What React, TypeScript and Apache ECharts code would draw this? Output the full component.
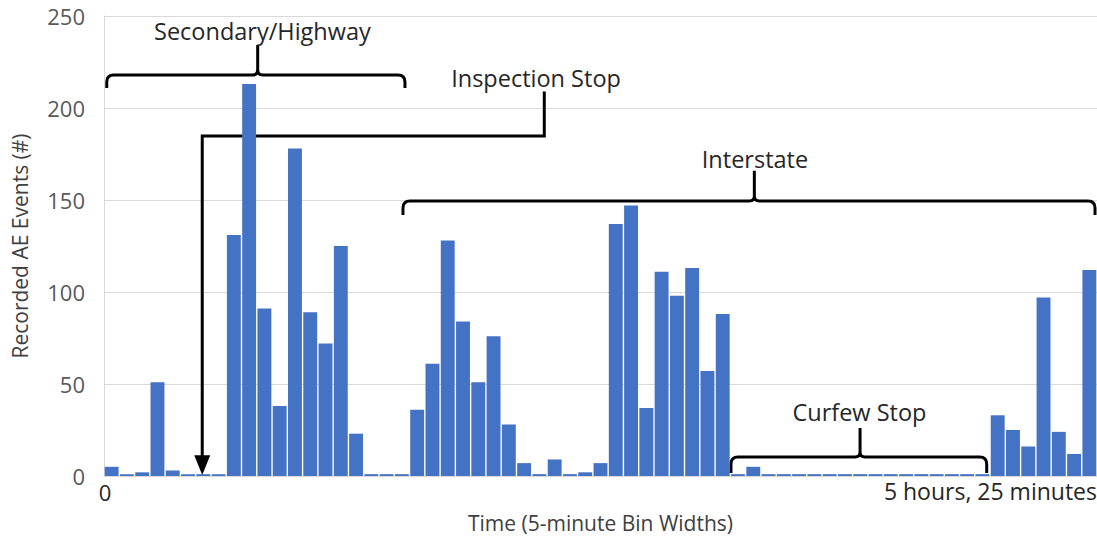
import React, { useEffect, useRef } from "react";
import * as echarts from "echarts";

// 5-minute bins (65 bins = 5 hours, 25 minutes)
const binStartMinutes: number[] = [];
for (let m = 0; m < 325; m += 5) binStartMinutes.push(m);
const categories = binStartMinutes.map((m) => String(m));

const aeEvents = [
  5, 1, 2, 51, 3, 1, 1, 1, 131, 213,
  91, 38, 178, 89, 72, 125, 23, 1, 1, 1,
  36, 61, 128, 84, 51, 76, 28, 7, 1, 9,
  1, 2, 7, 137, 147, 37, 111, 98, 113, 57,
  88, 1, 5, 1, 1, 1, 1, 1, 1, 1,
  1, 1, 1, 1, 1, 1, 1, 1, 33, 25,
  16, 97, 24, 12, 112,
];

const yTicks = [0, 50, 100, 150, 200, 250];
const xEndLabels = ["0", "5 hours, 25 minutes"];

// Annotation brackets, in data units: bin edges (x) and event counts (y)
const bracketNames = ["Secondary/Highway", "Interstate", "Curfew Stop"];
const bracketStart = [0.18, 19.57, 41.04];
const bracketEnd = [19.7, 64.87, 57.78];
const bracketPeakX = [10.06, 42.57, 49.49];
const bracketLineY = [217.9, 149.5, 10.3];
const bracketFootY = [210.9, 141.8, 1.6];
const bracketPeakY = [234.2, 165.9, 26.1];
const bracketLabelX = [10.37, 42.61, 49.45];
const bracketLabelY = [241.8, 172.3, 34.8];

// Inspection stop arrow
const inspectionLabel = "Inspection Stop";
const inspectionLabelPos = [28.28, 216.3];
const inspectionPath = [
  [28.82, 208.9],
  [28.82, 184.8],
  [6.43, 184.8],
  [6.43, 8.0],
];
const inspectionArrowTip = [6.43, 0.5];

export default function App() {
  const ref = useRef<HTMLDivElement>(null);

  useEffect(() => {
    if (!ref.current) return;
    const chart = echarts.init(ref.current, null, { renderer: "svg" });
    const font = "'Open Sans', 'Noto Sans', sans-serif";

    const option: any = {
      animation: false,
      grid: { left: 104, right: 0, top: 16, bottom: 66, containLabel: false, outerBoundsMode: "none" },
      xAxis: {
        type: "category",
        data: categories,
        boundaryGap: true,
        axisTick: { show: false },
        axisLabel: { show: false },
        axisLine: { show: true, lineStyle: { color: "#d9d9d9", width: 1 } },
        name: "Time (5-minute Bin Widths)",
        nameLocation: "middle",
        nameGap: 36,
        nameTextStyle: { fontFamily: font, fontSize: 21, color: "#404040" },
      },
      yAxis: {
        type: "value",
        min: 0,
        max: 250,
        interval: 50,
        axisLine: { show: true, lineStyle: { color: "#d9d9d9", width: 1 } },
        axisTick: { show: false },
        splitLine: { show: true, lineStyle: { color: "#d9d9d9", width: 1 } },
        axisLabel: {
          fontFamily: font,
          fontSize: 22,
          color: "#595959",
          margin: 19,
          formatter: (v: number) => (yTicks.includes(v) ? String(v) : ""),
        },
        name: "Recorded AE Events (#)",
        nameLocation: "middle",
        nameRotate: 90,
        nameGap: 74,
        nameTextStyle: { fontFamily: font, fontSize: 21, color: "#404040" },
      },
      series: [
        {
          type: "bar",
          data: aeEvents,
          barCategoryGap: "9%",
          itemStyle: {
            color: "#4472C4",
          },
        },
      ],
    };
    chart.setOption(option);

    const c0 = chart.convertToPixel({ xAxisIndex: 0 }, 0) as number;
    const c1 = chart.convertToPixel({ xAxisIndex: 0 }, 1) as number;
    const pitch = c1 - c0;
    const px = (e: number) => c0 - pitch / 2 + e * pitch;
    const py = (v: number) => chart.convertToPixel({ yAxisIndex: 0 }, v) as number;

    let d = "";
    const r = 7;
    const rc = 5;
    for (let i = 0; i < bracketNames.length; i++) {
      const x1 = px(bracketStart[i]);
      const x2 = px(bracketEnd[i]);
      const xc = px(bracketPeakX[i]);
      const yh = py(bracketLineY[i]);
      const yf = py(bracketFootY[i]);
      const yp = py(bracketPeakY[i]);
      d += `M${x1},${yf} L${x1},${yh + r} Q${x1},${yh} ${x1 + r},${yh} L${xc - rc},${yh} Q${xc},${yh} ${xc},${yh - rc} L${xc},${yp} `;
      d += `M${xc},${yh - rc} Q${xc},${yh} ${xc + rc},${yh} L${x2 - r},${yh} Q${x2},${yh} ${x2},${yh + r} L${x2},${yf} `;
    }
    d += "M" + inspectionPath.map((p) => `${px(p[0])},${py(p[1])}`).join(" L") + " ";
    echarts.graphic.registerShape("annotLines", echarts.graphic.extendPath(d, {}) as any);

    const tipX = px(inspectionArrowTip[0]);
    const tipY = py(inspectionArrowTip[1]);
    const baseY = py(inspectionPath[inspectionPath.length - 1][1]) - 6;

    const textStyle = (text: string, x: number, y: number, align = "center", size = 23.5) => ({
      type: "text",
      x,
      y,
      silent: true,
      style: {
        text,
        fontFamily: font,
        fontSize: size,
        fill: "#262626",
        align,
        verticalAlign: "middle",
      },
    });

    const graphics: any[] = [
      {
        type: "annotLines",
        x: 0,
        y: 0,
        scaleX: 1,
        scaleY: 1,
        silent: true,
        style: { stroke: "#000000", lineWidth: 3, fill: "none" },
      },
      {
        type: "polygon",
        silent: true,
        shape: {
          points: [
            [tipX - 8, baseY],
            [tipX + 8, baseY],
            [tipX, tipY],
          ],
        },
        style: { fill: "#000000" },
      },
    ];
    for (let i = 0; i < bracketNames.length; i++) {
      graphics.push(textStyle(bracketNames[i], px(bracketLabelX[i]), py(bracketLabelY[i]), "center", 23.5));
    }
    graphics.push(textStyle(inspectionLabel, px(inspectionLabelPos[0]), py(inspectionLabelPos[1]), "center", 23.5));
    graphics.push(textStyle(xEndLabels[0], px(0) + 1, py(0) + 16, "center", 22));
    graphics.push(textStyle(xEndLabels[1], px(categories.length), py(0) + 15, "right", 23));

    chart.setOption({ graphic: graphics });

    return () => {
      chart.dispose();
    };
  }, []);

  return (
    <div
      ref={ref}
      style={{ position: "fixed", left: 0, top: 0, width: 1097, height: 542, background: "#ffffff" }}
    />
  );
}
